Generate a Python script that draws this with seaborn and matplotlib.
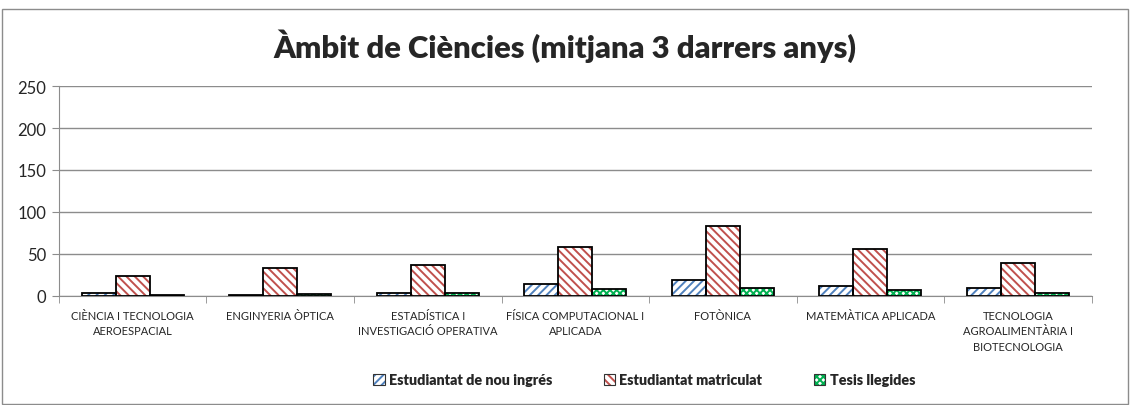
import numpy as np
import pandas as pd
import matplotlib.pyplot as plt
import matplotlib.patches as mpatches
from matplotlib.colors import to_rgba
import seaborn as sns

# data
programes = ['CIÈNCIA I TECNOLOGIA\nAEROESPACIAL', 'ENGINYERIA ÒPTICA',
             'ESTADÍSTICA I\nINVESTIGACIÓ OPERATIVA', 'FÍSICA COMPUTACIONAL I\nAPLICADA',
             'FOTÒNICA', 'MATEMÀTICA APLICADA',
             'TECNOLOGIA\nAGROALIMENTÀRIA I\nBIOTECNOLOGIA']
nou_ingres = [3.5, 1.5, 3, 14, 19, 11.5, 9.5]
matriculat = [24, 33, 37, 58, 83, 56.5, 39]
tesis = [1.5, 2, 3, 8, 9, 7, 3]
series = ['Estudiantat de nou ingrés', 'Estudiantat matriculat', 'Tesis llegides']

df = pd.DataFrame({'programa': programes * 3,
                   'serie': np.repeat(series, len(programes)),
                   'valor': nou_ingres + matriculat + tesis})

sns.set_style('white')
plt.rcParams['font.family'] = ['Lato', 'DejaVu Sans']
plt.rcParams['hatch.linewidth'] = 1.4

fig = plt.figure(figsize=(11.3, 4.06), dpi=100)
ax = fig.add_axes([0.0522, 0.2685, 0.9138, 0.5172])

hatch_cols = ['#4F81BD', '#C0504D', '#00B050']
hatches = ['////', '\\\\\\\\', 'xxxxx']

sns.barplot(data=df, x='programa', y='valor', hue='serie', ax=ax,
            width=0.69, gap=0, legend=False, palette=['white'] * 3)

for cont, hc, h in zip(ax.containers, hatch_cols, hatches):
    for p in cont.patches:
        p.set_facecolor('white')
        p.set_edgecolor(hc)
        p.set_hatch(h)
        p.set_linewidth(0)
        ax.add_patch(mpatches.Rectangle(p.get_xy(), p.get_width(), p.get_height(),
                                        fill=False, edgecolor='black', lw=1.3, zorder=3))

ax.set_ylim(0, 250)
ax.set_xlim(-0.5, len(programes) - 0.5)
ax.set_yticks(range(0, 251, 50))
ax.yaxis.grid(True, color='#8c8c8c', lw=1)
ax.set_axisbelow(True)
ax.set_xlabel('')
ax.set_ylabel('')
for s in ['top', 'right']:
    ax.spines[s].set_visible(False)
ax.spines['left'].set_color('#8c8c8c')
ax.spines['bottom'].set_color('#8c8c8c')
ax.tick_params(axis='y', left=True, length=5, color='#8c8c8c', labelsize=12, pad=4)
ax.tick_params(axis='x', which='major', length=0, labelsize=8, pad=10)
ax.set_xticks(np.arange(-0.5, len(programes), 1), minor=True)
ax.tick_params(axis='x', which='minor', bottom=True, length=5, color='#8c8c8c')
for lbl in ax.get_xticklabels():
    lbl.set_linespacing(1.5)

fig.text(0.5, 0.885, 'Àmbit de Ciències (mitjana 3 darrers anys)',
         ha='center', va='center', fontsize=22.3, fontweight='heavy')

# legend swatches: black border with coloured hatch
handles = []
for hc, h in zip(hatch_cols, hatches):
    sw = mpatches.Patch(facecolor='white', edgecolor='#333333', hatch=h, lw=0.8)
    if hasattr(sw, 'set_hatchcolor'):
        sw.set_hatchcolor(hc)
    else:
        sw._hatch_color = to_rgba(hc)
    handles.append(sw)
fig.legend(handles, series, loc='center', bbox_to_anchor=(0.57, 0.062), ncol=3,
           frameon=False, prop={'weight': 'heavy', 'size': 10.3},
           handlelength=0.8, handleheight=0.8, handletextpad=0.3, columnspacing=3.6)

fig.add_artist(mpatches.Rectangle((0.002, 0.002), 0.996, 0.973, transform=fig.transFigure,
                                  fill=False, edgecolor='#8c8c8c', lw=1))

fig.savefig('out.png', dpi=100)
